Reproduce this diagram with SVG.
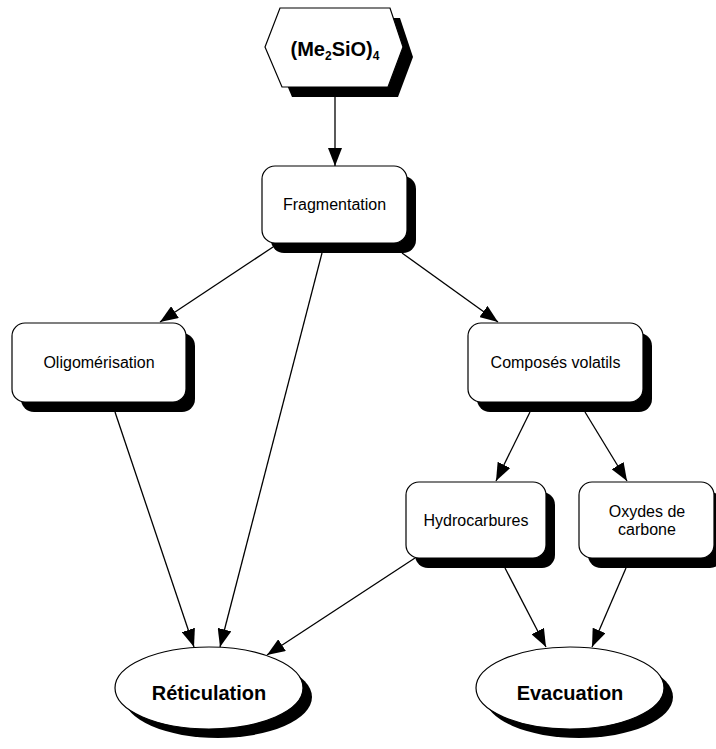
<svg xmlns="http://www.w3.org/2000/svg" width="716" height="749" viewBox="0 0 716 749">
<style>
.box{fill:#fff;stroke:#000;stroke-width:1.2}
.sh{fill:#000}
.t{font-family:"Liberation Sans",Arial,sans-serif;font-size:16px;fill:#000;text-anchor:middle}
.tb{font-family:"Liberation Sans",Arial,sans-serif;font-size:20px;font-weight:bold;fill:#000;text-anchor:middle}
.c{stroke:#000;stroke-width:1.3;fill:none;marker-end:url(#ah)}
</style>
<defs>
<marker id="ah" markerUnits="userSpaceOnUse" markerWidth="18" markerHeight="14" refX="18" refY="7" orient="auto" viewBox="0 0 18 14">
<path d="M0,0 L18,7 L0,14 z" fill="#000"/>
</marker>
</defs>
<rect width="716" height="749" fill="#fff"/>
<g id="connectors">
<line class="c" x1="335" y1="97" x2="335" y2="166"/>
<line class="c" x1="273" y1="247" x2="160" y2="322"/>
<line class="c" x1="322" y1="253" x2="220" y2="647"/>
<line class="c" x1="402" y1="253" x2="498" y2="322"/>
<line class="c" x1="115" y1="412" x2="194" y2="647"/>
<line class="c" x1="530" y1="412" x2="496" y2="481"/>
<line class="c" x1="585" y1="412" x2="627" y2="481"/>
<line class="c" x1="415" y1="558" x2="267" y2="655"/>
<line class="c" x1="505" y1="568" x2="546" y2="647"/>
<line class="c" x1="626" y1="568" x2="592" y2="647"/>
</g>
<g id="n-hex">
<polygon class="sh" points="290,18 400,18 413,57 398,97 292,97 275,57"/>
<polygon class="box" points="280,8 390,8 403,47 388,87 282,87 265,47"/>
<text class="tb" x="335" y="56">(Me<tspan font-size="12" dy="4">2</tspan><tspan dy="-4">SiO)</tspan><tspan font-size="12" dy="4">4</tspan></text>
</g>
<g id="n-fragmentation">
<rect class="sh" x="271" y="176" width="145" height="77" rx="13"/>
<rect class="box" x="262" y="166" width="145" height="77" rx="13"/>
<text class="t" x="334.5" y="210">Fragmentation</text>
</g>
<g id="n-oligo">
<rect class="sh" x="21" y="333" width="174" height="79" rx="13"/>
<rect class="box" x="12" y="323" width="174" height="79" rx="13"/>
<text class="t" x="99" y="368">Oligomérisation</text>
</g>
<g id="n-composes">
<rect class="sh" x="477" y="333" width="175" height="79" rx="13"/>
<rect class="box" x="468" y="323" width="175" height="79" rx="13"/>
<text class="t" x="555.5" y="368">Composés volatils</text>
</g>
<g id="n-hydro">
<rect class="sh" x="415" y="492" width="140" height="76" rx="13"/>
<rect class="box" x="406" y="482" width="140" height="76" rx="13"/>
<text class="t" x="476" y="526">Hydrocarbures</text>
</g>
<g id="n-oxydes">
<rect class="sh" x="588" y="492" width="135" height="76" rx="13"/>
<rect class="box" x="579" y="482" width="135" height="76" rx="13"/>
<text class="t" x="647" y="517">Oxydes de</text>
<text class="t" x="647" y="535">carbone</text>
</g>
<g id="n-reticulation">
<ellipse class="sh" cx="218" cy="697" rx="94" ry="41"/>
<ellipse class="box" cx="209" cy="688" rx="94" ry="41"/>
<text class="tb" x="209" y="700">Réticulation</text>
</g>
<g id="n-evacuation">
<ellipse class="sh" cx="579" cy="697" rx="94" ry="41"/>
<ellipse class="box" cx="570" cy="688" rx="94" ry="41"/>
<text class="tb" x="570" y="700">Evacuation</text>
</g>
</svg>
